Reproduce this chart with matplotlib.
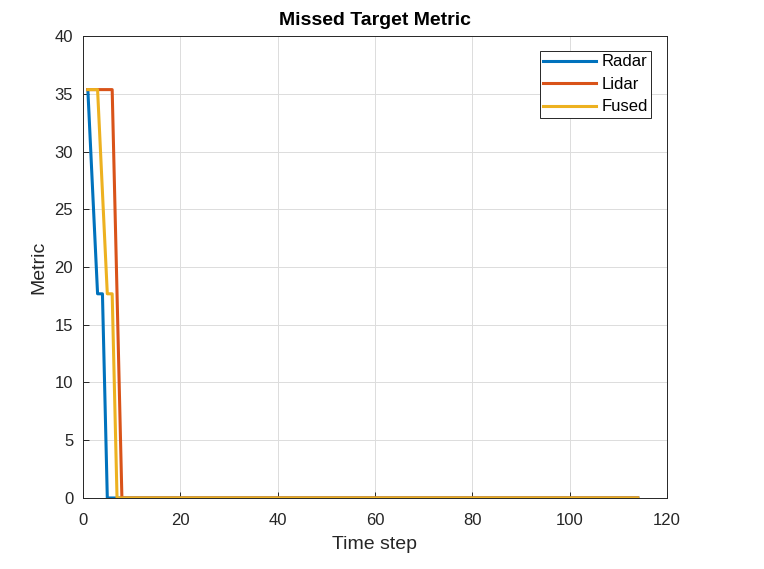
import numpy as np
import matplotlib.pyplot as plt

plt.rcParams['font.family'] = ['Liberation Sans', 'DejaVu Sans']

N_STEPS = 114
time_step = list(range(1, N_STEPS + 1))

radar_head = [35.36, 26.5, 17.68, 17.68, 0.0]
lidar_head = [35.36, 35.36, 35.36, 35.36, 35.36, 35.36, 17.68, 0.0]
fused_head = [35.36, 35.36, 35.36, 26.5, 17.68, 17.68, 0.0]

radar = radar_head + [0.0] * (N_STEPS - len(radar_head))
lidar = lidar_head + [0.0] * (N_STEPS - len(lidar_head))
fused = fused_head + [0.0] * (N_STEPS - len(fused_head))

series = {
    "Radar": (radar, "#0072BD"),
    "Lidar": (lidar, "#D95319"),
    "Fused": (fused, "#EDB120"),
}

fig = plt.figure(figsize=(7.64, 5.69), dpi=100)
ax = fig.add_axes([0.1086, 0.1248, 0.7644, 0.8119])

for name, (vals, color) in series.items():
    ax.plot(time_step, vals, color=color, linewidth=2.2, label=name)

ax.set_xlim(0, 120)
ax.set_ylim(0, 40)
ax.set_xticks(np.arange(0, 121, 20))
ax.set_yticks(np.arange(0, 41, 5))
ax.grid(True, color="#dcdcdc", linewidth=0.7)
ax.set_axisbelow(True)
ax.tick_params(direction="in", length=4, labelsize=12, colors="#262626", width=0.7)
ax.tick_params(axis="x", pad=10.5)
ax.tick_params(axis="y", pad=7)
for sp in ax.spines.values():
    sp.set_color("#262626")
    sp.set_linewidth(0.7)

ax.set_xlabel("Time step", fontsize=14, color="#262626", labelpad=6)
ax.set_ylabel("Metric", fontsize=14, color="#262626", labelpad=5)
ax.set_title("Missed Target Metric", fontsize=14, fontweight="bold", color="black", pad=8)

leg = ax.legend(loc="upper right", bbox_to_anchor=(0.9726, 0.9675), borderaxespad=0,
                fontsize=12, fancybox=False, framealpha=1, edgecolor="#262626",
                handlelength=3.2, handletextpad=0.3, labelspacing=0.45, borderpad=0.2)
leg.get_frame().set_linewidth(0.7)

fig.savefig("out.png", dpi=100)
